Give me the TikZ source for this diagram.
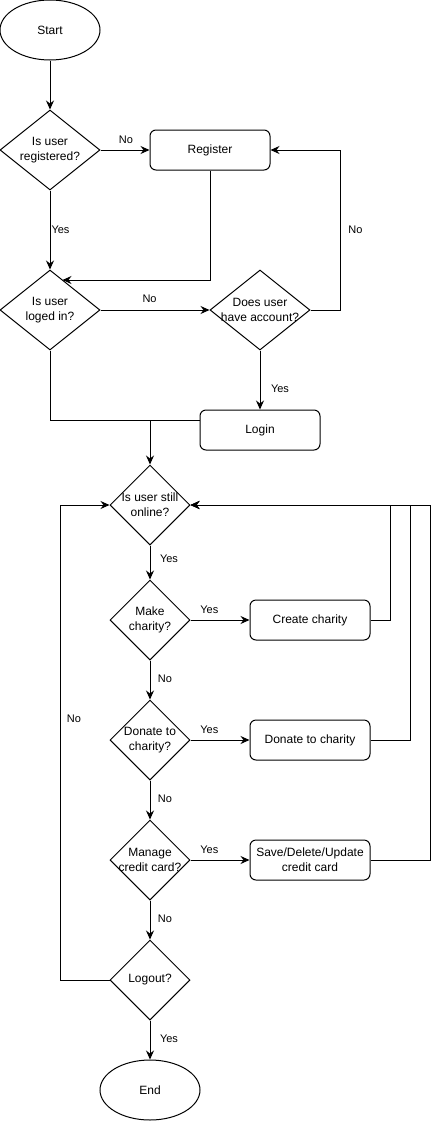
\documentclass[tikz,border=0pt]{standalone}
\usepackage{fontspec}
\setmainfont{Liberation Sans}
\usetikzlibrary{shapes.geometric,arrows.meta,calc}
\begin{document}
\begin{tikzpicture}[x=1pt,y=-1pt,
  line width=1pt,
  every node/.style={font=\fontsize{12pt}{15pt}\selectfont},
  term/.style={ellipse,draw,minimum width=100pt,minimum height=60pt,inner sep=0pt},
  proc/.style={rectangle,draw,rounded corners=6pt,minimum width=120pt,minimum height=40pt,inner sep=0pt,align=center},
  dec/.style={diamond,draw,inner sep=0pt,minimum width=#1,minimum height=80pt},
  dlab/.style={align=center,inner sep=0pt},
  elab/.style={font=\fontsize{11pt}{13pt}\selectfont,inner sep=0pt},
  arr/.style={-{Stealth[length=9pt,width=8pt,inset=3pt]}}
]
\useasboundingbox (0,0) rectangle (439,1122);

% nodes
\node[term] (start) at (50,30) {Start};
\node[dec=100pt,label={[dlab]center:Is user\\registered?}] (d1) at (50,150) {};
\node[proc] (reg) at (210,150) {Register};
\node[dec=100pt,label={[dlab]center:Is user\\loged in?}] (d2) at (50,310) {};
\node[dec=100pt,label={[dlab]center:Does user\\have account?}] (d3) at (260,310) {};
\node[proc] (login) at (260,430) {Login};
\node[dec=80pt,label={[dlab]center:Is user still\\online?}] (d4) at (150,505) {};
\node[dec=80pt,label={[dlab]center:Make\\charity?}] (d5) at (150,620) {};
\node[proc] (cc) at (310,620) {Create charity};
\node[dec=80pt,label={[dlab]center:Donate to\\charity?}] (d6) at (150,740) {};
\node[proc] (dc) at (310,740) {Donate to charity};
\node[dec=80pt,label={[dlab]center:Manage\\credit card?}] (d7) at (150,860) {};
\node[proc] (sc) at (310,860) {Save/Delete/Update\\credit card};
\node[dec=80pt,label={[dlab]center:Logout?}] (d8) at (150,980) {};
\node[term] (end) at (150,1090) {End};

\coordinate (r2) at (62.5,280);
\coordinate (j1) at (150,420);
\coordinate (lb) at (60,980);

% connectors
\draw[arr] (start) -- (d1);
\draw[arr] (d1) -- node[elab,pos=0.52,yshift=10pt] {No} (reg);
\draw[arr] (d1) -- node[elab,pos=0.5,xshift=10.5pt] {Yes} (d2);
\draw[arr] (reg.south) |- (r2);
\draw[arr] (d2) -- node[elab,pos=0.45,yshift=11pt] {No} (d3);
\draw[arr] (d3.east) -- ++(30,0) -- node[elab,pos=0.5,xshift=15pt] {No} ++(0,-160) -- (reg.east);
\draw[arr] (d3) -- node[elab,pos=0.65,xshift=20pt] {Yes} (login);
\draw (d2.south) |- (login.west |- j1);
\draw[arr] (j1) -- (d4);
\draw[arr] (d4) -- node[elab,pos=0.4,xshift=19pt] {Yes} (d5);
\draw[arr] (d5) -- node[elab,pos=0.32,yshift=10pt] {Yes} (cc);
\draw[arr] (cc.east) -- ++(20,0) |- (d4.east);
\draw[arr] (d5) -- node[elab,pos=0.48,xshift=15pt] {No} (d6);
\draw[arr] (d6) -- node[elab,pos=0.32,yshift=10pt] {Yes} (dc);
\draw[arr] (dc.east) -- ++(40,0) |- (d4.east);
\draw[arr] (d6) -- node[elab,pos=0.48,xshift=15pt] {No} (d7);
\draw[arr] (d7) -- node[elab,pos=0.32,yshift=10pt] {Yes} (sc);
\draw[arr] (sc.east) -- ++(60,0) |- (d4.east);
\draw[arr] (d7) -- node[elab,pos=0.48,xshift=15pt] {No} (d8);
\draw[arr] (d8.west) -- (lb) -- node[elab,pos=0.55,xshift=14pt] {No} (lb |- d4.west) -- (d4.west);
\draw[arr] (d8) -- node[elab,pos=0.48,xshift=19pt] {Yes} (end);
\end{tikzpicture}
\end{document}
